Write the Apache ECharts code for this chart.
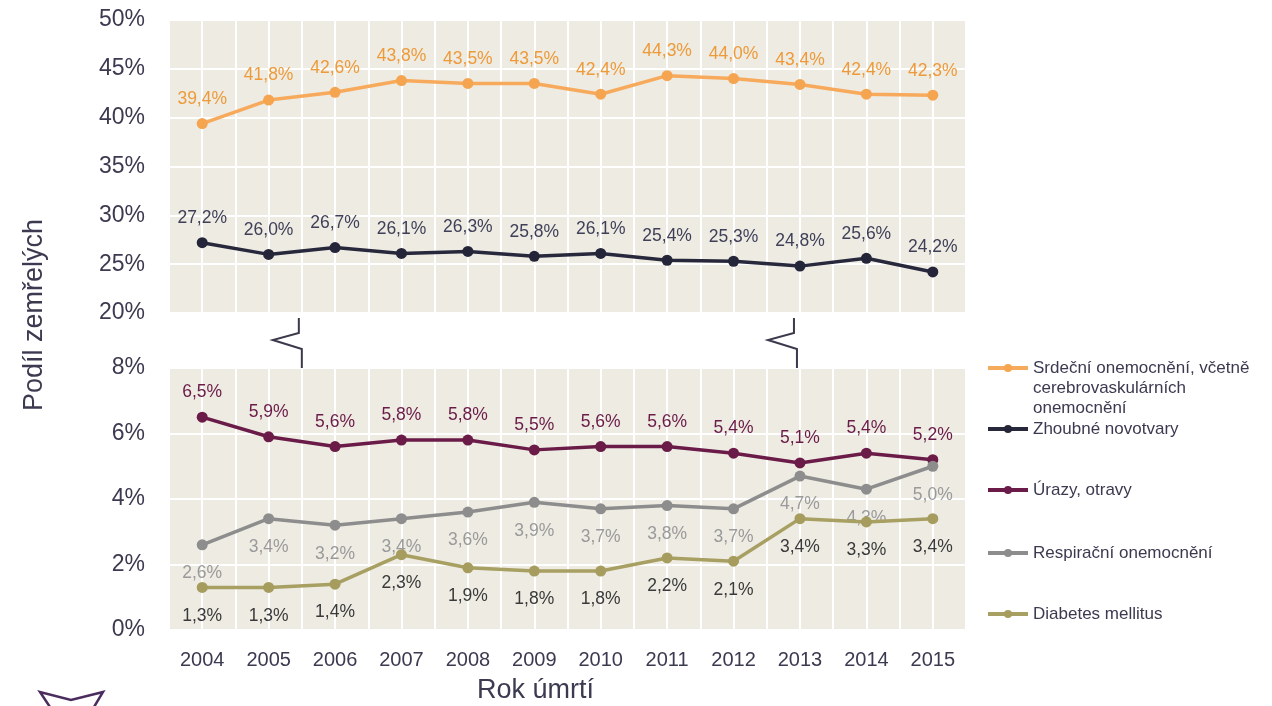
<!DOCTYPE html>
<html>
<head>
<meta charset="utf-8">
<script src="https://cdn.jsdelivr.net/npm/echarts@6/dist/echarts.min.js"></script>
<style>
html,body{margin:0;padding:0;background:#fff;}
#main{width:1272px;height:706px;}
</style>
</head>
<body>
<div id="main"></div>
<script>
const years = ['2004','2005','2006','2007','2008','2009','2010','2011','2012','2013','2014','2015'];
const heartData = [39.4, 41.8, 42.6, 43.8, 43.5, 43.5, 42.4, 44.3, 44.0, 43.4, 42.4, 42.3];
const cancerData = [27.2, 26.0, 26.7, 26.1, 26.3, 25.8, 26.1, 25.4, 25.3, 24.8, 25.6, 24.2];
const injuryData = [6.5, 5.9, 5.6, 5.8, 5.8, 5.5, 5.6, 5.6, 5.4, 5.1, 5.4, 5.2];
const respData = [2.6, 3.4, 3.2, 3.4, 3.6, 3.9, 3.7, 3.8, 3.7, 4.7, 4.3, 5.0];
const diabetesData = [1.3, 1.3, 1.4, 2.3, 1.9, 1.8, 1.8, 2.2, 2.1, 3.4, 3.3, 3.4];
const seriesNames = ['Srdeční onemocnění, včetně\ncerebrovaskulárních\nonemocnění', 'Zhoubné novotvary', 'Úrazy, otravy', 'Respirační onemocnění', 'Diabetes mellitus'];
const halfSlots = Array.from({length: years.length * 2}, () => '');

const textColor = '#3b3a50';
const font = 'Liberation Sans, Arial, sans-serif';
const fmt = p => p.value.toFixed(1).replace('.', ',') + '%';

const chart = echarts.init(document.getElementById('main'));

function mkSeries(name, data, gi, color, lineColor, labelColor, pos, z) {
  return {
    name: name, type: 'line', data: data,
    xAxisIndex: gi, yAxisIndex: gi, z: z,
    symbol: 'circle', symbolSize: 11,
    lineStyle: {color: lineColor, width: 3.5},
    itemStyle: {color: color},
    label: {show: true, position: pos, distance: pos === 'top' ? 10 : 14, formatter: fmt, color: labelColor, fontSize: 17.5, fontFamily: font},
    emphasis: {disabled: true}
  };
}

const legendCenters = [368, 429, 490, 553, 614];
const legends = seriesNames.map((n, i) => ({
  data: [n], orient: 'vertical', left: 986,
  top: i === 0 ? legendCenters[i] - 50 : legendCenters[i] - 10,
  padding: 0,
  itemWidth: 40, itemHeight: 10, itemGap: 0,
  lineStyle: {width: 4},
  formatter: i === 0 ? (nm => '\n\n' + nm) : '{name}',
  textStyle: {fontSize: 17, color: textColor, fontFamily: font, lineHeight: 20},
  selectedMode: false
}));

const option = {
  animation: false,
  backgroundColor: '#ffffff',
  grid: [
    {left: 169, right: 306, top: 20, height: 293, show: true, backgroundColor: '#EDEBE2', borderWidth: 0},
    {left: 169, right: 306, top: 368, height: 262, show: true, backgroundColor: '#EDEBE2', borderWidth: 0}
  ],
  legend: legends,
  xAxis: [
    {type: 'category', gridIndex: 0, data: years, axisLine: {show: false}, axisTick: {show: false}, axisLabel: {show: false}, splitLine: {show: false}},
    {type: 'category', gridIndex: 1, data: years, axisLine: {show: false}, axisTick: {show: false},
     axisLabel: {color: textColor, fontSize: 20, fontFamily: font, margin: 20, interval: 0},
     splitLine: {show: false},
     name: 'Rok úmrtí', nameLocation: 'middle', nameGap: 47,
     nameTextStyle: {color: textColor, fontSize: 27, fontFamily: font, padding: [0, 64, 0, 0]}},
    {type: 'category', gridIndex: 0, data: halfSlots, position: 'bottom', axisLine: {show: false}, axisTick: {show: false}, axisLabel: {show: false},
     splitLine: {show: true, interval: 0, lineStyle: {color: '#ffffff', width: 2}}},
    {type: 'category', gridIndex: 1, data: halfSlots, position: 'bottom', axisLine: {show: false}, axisTick: {show: false}, axisLabel: {show: false},
     splitLine: {show: true, interval: 0, lineStyle: {color: '#ffffff', width: 2}}}
  ],
  yAxis: [
    {type: 'value', gridIndex: 0, min: 20, max: 50, interval: 5, axisLine: {show: false}, axisTick: {show: false},
     axisLabel: {formatter: '{value}%', color: textColor, fontSize: 23, fontFamily: font, margin: 24},
     splitLine: {lineStyle: {color: '#ffffff', width: 2}}},
    {type: 'value', gridIndex: 1, min: 0, max: 8, interval: 2, axisLine: {show: false}, axisTick: {show: false},
     axisLabel: {formatter: '{value}%', color: textColor, fontSize: 23, fontFamily: font, margin: 24},
     splitLine: {lineStyle: {color: '#ffffff', width: 2}}}
  ],
  series: [
    mkSeries(seriesNames[0], heartData, 0, '#F5A450', '#F7AA5C', '#EE9A3A', 'top', 3),
    mkSeries(seriesNames[1], cancerData, 0, '#25253A', '#28283C', '#3F3F58', 'top', 3),
    mkSeries(seriesNames[2], injuryData, 1, '#6A1B48', '#6A1B48', '#6A1B48', 'top', 3),
    mkSeries(seriesNames[3], respData, 1, '#8D8D8D', '#8D8D8D', '#9A9A9A', 'bottom', 4),
    mkSeries(seriesNames[4], diabetesData, 1, '#A59C5E', '#A89F62', '#3A3A3A', 'bottom', 5)
  ]
};
chart.setOption(option);

function breakMarker(x0) {
  return {
    type: 'polyline', silent: true,
    shape: {points: [[x0 - 3, 318], [x0 - 3, 333], [x0 - 29, 340], [x0, 349], [x0, 368]]},
    style: {stroke: '#3a3a4c', lineWidth: 2, fill: null}
  };
}
const px = i => chart.convertToPixel({xAxisIndex: 1}, years[i]);
const b1 = (px(1) + px(2)) / 2;
const b2 = px(9) - 3;
chart.setOption({
  graphic: [
    {type: 'text', x: 35, y: 315, rotation: Math.PI / 2,
     style: {text: 'Podíl zemřelých', fill: textColor, fontSize: 27, fontFamily: font, align: 'center', verticalAlign: 'middle'}},
    breakMarker(b1),
    breakMarker(b2),
    {type: 'polyline', silent: true,
     shape: {points: [[50, 707], [40, 692], [71, 700], [103, 692], [94, 707]]},
     style: {stroke: '#4a2d5e', lineWidth: 2.5, fill: null, lineJoin: 'miter'}}
  ]
});
</script>
</body>
</html>
